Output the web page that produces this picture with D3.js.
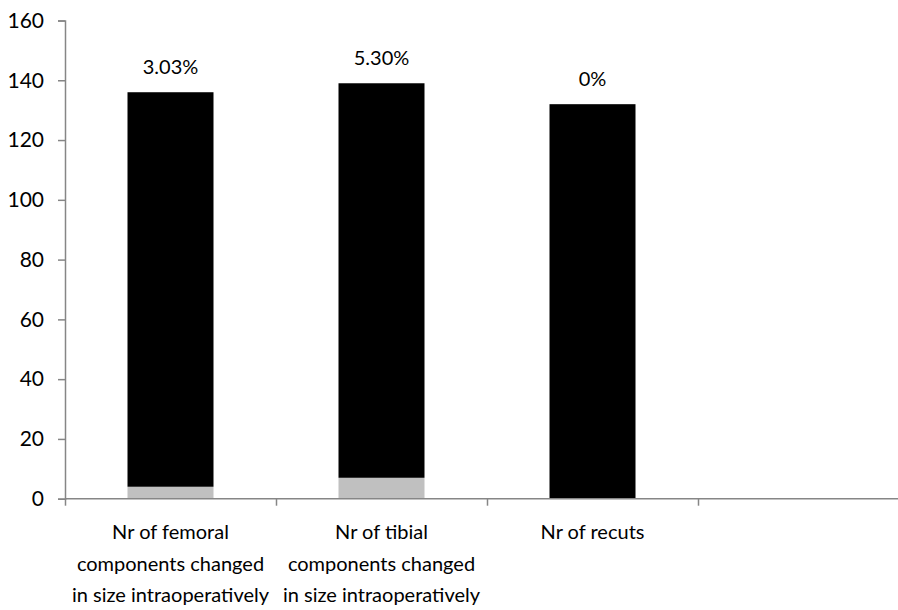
<!DOCTYPE html>
<html><head><meta charset="utf-8">
<script src="https://cdn.jsdelivr.net/npm/d3@7"></script>
<style>body{margin:0;background:#fff}svg{display:block}</style>
</head><body>
<svg id="c" width="898" height="610"></svg>
<script>
const categories = [
  ["Nr of femoral", "components changed", "in size intraoperatively"],
  ["Nr of tibial", "components changed", "in size intraoperatively"],
  ["Nr of recuts"],
  [""]
];
const changed = [4, 7, 0, null];
const unchanged = [132, 132, 132, null];
const pctLabels = ["3.03%", "5.30%", "0%", ""];
const yTicks = [0, 20, 40, 60, 80, 100, 120, 140, 160];

const FONT = "Lato,'Noto Sans',sans-serif";
const svg = d3.select("#c");
const x0 = 65, yBase = 498.7, yTop = 20.5;
const idx = categories.map((d, i) => i);
const x = d3.scaleBand().domain(idx).range([x0, x0 + 4 * 211]).paddingInner(0).paddingOuter(0);
const y = d3.scaleLinear().domain([0, 160]).range([yBase, yTop]);
const bw = 86;

const rows = idx.filter(i => changed[i] !== null).map(i => ({i, changed: changed[i], unchanged: unchanged[i]}));
const stack = d3.stack().keys(["changed", "unchanged"])(rows);
const colors = {changed: "#c0c0c0", unchanged: "#000000"};

stack.forEach(layer => {
  svg.append("g").selectAll("rect").data(layer).join("rect")
    .attr("x", d => x(d.data.i) + x.bandwidth() / 2 - bw / 2)
    .attr("width", bw)
    .attr("y", d => y(d[1]))
    .attr("height", d => y(d[0]) - y(d[1]))
    .attr("fill", colors[layer.key]);
});

// value labels
svg.append("g").selectAll("text").data(rows).join("text")
  .attr("x", d => x(d.i) + x.bandwidth() / 2)
  .attr("y", d => y(d.changed + d.unchanged) - 18)
  .attr("text-anchor", "middle")
  .attr("font-family", FONT).attr("font-size", 20).attr("fill", "#000")
  .text(d => pctLabels[d.i]);

// y axis
const yAxis = svg.append("g").attr("transform", `translate(${x0},0)`)
  .call(d3.axisLeft(y).tickValues(yTicks).tickSize(7).tickPadding(14));
yAxis.select(".domain").attr("stroke", "#868686").attr("stroke-width", 1.5);
yAxis.selectAll(".tick line").attr("stroke", "#868686").attr("stroke-width", 1.5);
yAxis.selectAll(".tick text").attr("font-family", FONT).attr("font-size", 21).attr("fill", "#000");

// x axis
const xAxis = svg.append("g").attr("transform", `translate(0,${yBase})`)
  .call(d3.axisBottom(d3.scaleLinear().domain([0, 4]).range([x0, x0 + 4 * 211])).tickValues([0, 1, 2, 3, 4]).tickSize(7).tickFormat(""));
xAxis.select(".domain").attr("stroke", "#868686").attr("stroke-width", 1.5).attr("d", `M${x0},0H${x0 + 4 * 211}`);
xAxis.selectAll(".tick line").attr("stroke", "#868686").attr("stroke-width", 1.5);

// category labels
const lab = svg.append("g");
categories.forEach((lines, i) => {
  const t = lab.append("text")
    .attr("text-anchor", "middle")
    .attr("font-family", FONT).attr("font-size", 20).attr("fill", "#000");
  lines.forEach((ln, k) => {
    t.append("tspan").attr("x", x(i) + x.bandwidth() / 2).attr("y", 539 + k * 31.5).text(ln);
  });
});
</script>
</body></html>
